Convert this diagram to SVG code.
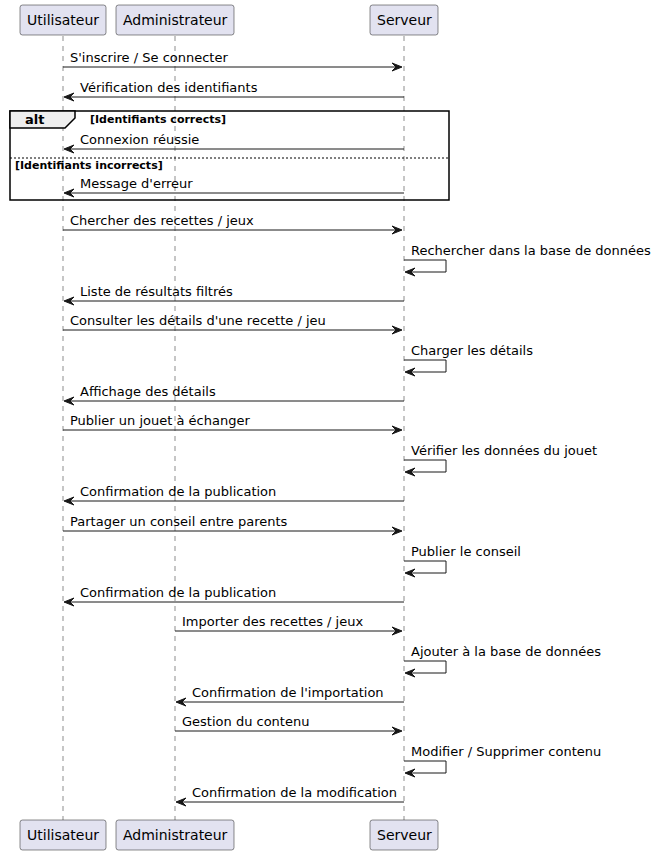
<svg xmlns="http://www.w3.org/2000/svg" width="658" height="855" viewBox="0 0 658 855">
<style>
.pbox{fill:#E2E2F0;stroke:#181818;stroke-width:0.5}
.ptxt{font-family:"DejaVu Sans",sans-serif;font-size:14px;fill:#000}
.life{stroke:#181818;stroke-width:0.5;stroke-dasharray:5,5;fill:none}
.msg{stroke:#181818;stroke-width:1;fill:none}
.head{fill:#181818;stroke:#181818;stroke-width:1}
.mtxt{font-family:"DejaVu Sans",sans-serif;font-size:13px;fill:#000}
.frame{fill:none;stroke:#000;stroke-width:1.5}
.flab{fill:#EEEEEE;stroke:#000;stroke-width:1.5}
.ftxt{font-family:"DejaVu Sans",sans-serif;font-size:13px;font-weight:bold;fill:#000}
.gtxt{font-family:"DejaVu Sans",sans-serif;font-size:11px;font-weight:bold;fill:#000}
</style>
<g id="lifelines">
<line class="life" x1="63" y1="36" x2="63" y2="820"/>
<line class="life" x1="175" y1="36" x2="175" y2="820"/>
<line class="life" x1="404" y1="36" x2="404" y2="820"/>
</g>
<g id="Utilisateur">
<rect class="pbox" x="20" y="5" width="86" height="30" rx="2.5"/>
<text class="ptxt" x="27" y="25">Utilisateur</text>
<rect class="pbox" x="20" y="820" width="86" height="30" rx="2.5"/>
<text class="ptxt" x="27" y="840">Utilisateur</text>
</g>
<g id="Administrateur">
<rect class="pbox" x="116" y="5" width="118" height="30" rx="2.5"/>
<text class="ptxt" x="123" y="25">Administrateur</text>
<rect class="pbox" x="116" y="820" width="118" height="30" rx="2.5"/>
<text class="ptxt" x="123" y="840">Administrateur</text>
</g>
<g id="Serveur">
<rect class="pbox" x="370" y="5" width="68" height="30" rx="2.5"/>
<text class="ptxt" x="377" y="25">Serveur</text>
<rect class="pbox" x="370" y="820" width="68" height="30" rx="2.5"/>
<text class="ptxt" x="377" y="840">Serveur</text>
</g>
<g id="alt">
<rect class="frame" x="10" y="111" width="439" height="89"/>
<polygon class="flab" points="10,111 75,111 75,118 65,128 10,128"/>
<text class="ftxt" x="25" y="124">alt</text>
<text class="gtxt" x="90" y="123">[Identifiants corrects]</text>
<line x1="10" y1="158" x2="449" y2="158" stroke="#000" stroke-width="1" stroke-dasharray="2,2"/>
<text class="gtxt" x="15" y="168.5">[Identifiants incorrects]</text>
</g>
<g id="connectors">
<line class="msg" x1="63" y1="67" x2="399" y2="67"/>
<polygon class="head" points="392,63 402,67 392,71 396,67"/>
<text class="mtxt" x="70" y="62">S'inscrire / Se connecter</text>
<line class="msg" x1="67" y1="97" x2="404" y2="97"/>
<polygon class="head" points="74,93 64,97 74,101 70,97"/>
<text class="mtxt" x="80" y="92">Vérification des identifiants</text>
<line class="msg" x1="67" y1="149" x2="404" y2="149"/>
<polygon class="head" points="74,145 64,149 74,153 70,149"/>
<text class="mtxt" x="80" y="144">Connexion réussie</text>
<line class="msg" x1="67" y1="193" x2="404" y2="193"/>
<polygon class="head" points="74,189 64,193 74,197 70,193"/>
<text class="mtxt" x="80" y="188">Message d'erreur</text>
<line class="msg" x1="63" y1="230" x2="399" y2="230"/>
<polygon class="head" points="392,226 402,230 392,234 396,230"/>
<text class="mtxt" x="70" y="225">Chercher des recettes / jeux</text>
<polyline class="msg" points="404,260 446,260 446,272 407,272"/>
<polygon class="head" points="415,268 405,272 415,276 411,272"/>
<text class="mtxt" x="411" y="255">Rechercher dans la base de données</text>
<line class="msg" x1="67" y1="301" x2="404" y2="301"/>
<polygon class="head" points="74,297 64,301 74,305 70,301"/>
<text class="mtxt" x="80" y="296">Liste de résultats filtrés</text>
<line class="msg" x1="63" y1="330" x2="399" y2="330"/>
<polygon class="head" points="392,326 402,330 392,334 396,330"/>
<text class="mtxt" x="70" y="325">Consulter les détails d'une recette / jeu</text>
<polyline class="msg" points="404,360 446,360 446,372 407,372"/>
<polygon class="head" points="415,368 405,372 415,376 411,372"/>
<text class="mtxt" x="411" y="355">Charger les détails</text>
<line class="msg" x1="67" y1="401" x2="404" y2="401"/>
<polygon class="head" points="74,397 64,401 74,405 70,401"/>
<text class="mtxt" x="80" y="396">Affichage des détails</text>
<line class="msg" x1="63" y1="430" x2="399" y2="430"/>
<polygon class="head" points="392,426 402,430 392,434 396,430"/>
<text class="mtxt" x="70" y="425">Publier un jouet à échanger</text>
<polyline class="msg" points="404,460 446,460 446,472 407,472"/>
<polygon class="head" points="415,468 405,472 415,476 411,472"/>
<text class="mtxt" x="411" y="455">Vérifier les données du jouet</text>
<line class="msg" x1="67" y1="501" x2="404" y2="501"/>
<polygon class="head" points="74,497 64,501 74,505 70,501"/>
<text class="mtxt" x="80" y="496">Confirmation de la publication</text>
<line class="msg" x1="63" y1="531" x2="399" y2="531"/>
<polygon class="head" points="392,527 402,531 392,535 396,531"/>
<text class="mtxt" x="70" y="526">Partager un conseil entre parents</text>
<polyline class="msg" points="404,561 446,561 446,573 407,573"/>
<polygon class="head" points="415,569 405,573 415,577 411,573"/>
<text class="mtxt" x="411" y="556">Publier le conseil</text>
<line class="msg" x1="67" y1="602" x2="404" y2="602"/>
<polygon class="head" points="74,598 64,602 74,606 70,602"/>
<text class="mtxt" x="80" y="597">Confirmation de la publication</text>
<line class="msg" x1="175" y1="631" x2="399" y2="631"/>
<polygon class="head" points="392,627 402,631 392,635 396,631"/>
<text class="mtxt" x="182" y="626">Importer des recettes / jeux</text>
<polyline class="msg" points="404,661 446,661 446,673 407,673"/>
<polygon class="head" points="415,669 405,673 415,677 411,673"/>
<text class="mtxt" x="411" y="656">Ajouter à la base de données</text>
<line class="msg" x1="179" y1="702" x2="404" y2="702"/>
<polygon class="head" points="186,698 176,702 186,706 182,702"/>
<text class="mtxt" x="192" y="697">Confirmation de l'importation</text>
<line class="msg" x1="175" y1="731" x2="399" y2="731"/>
<polygon class="head" points="392,727 402,731 392,735 396,731"/>
<text class="mtxt" x="182" y="726">Gestion du contenu</text>
<polyline class="msg" points="404,761 446,761 446,773 407,773"/>
<polygon class="head" points="415,769 405,773 415,777 411,773"/>
<text class="mtxt" x="411" y="756">Modifier / Supprimer contenu</text>
<line class="msg" x1="179" y1="802" x2="404" y2="802"/>
<polygon class="head" points="186,798 176,802 186,806 182,802"/>
<text class="mtxt" x="192" y="797">Confirmation de la modification</text>
</g>
</svg>
